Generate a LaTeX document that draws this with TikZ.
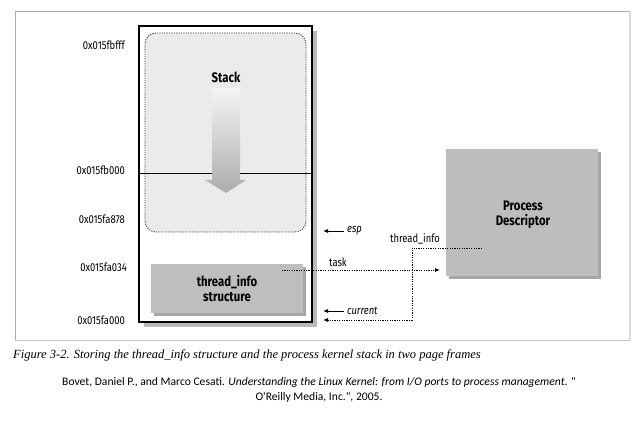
\documentclass[tikz,border=0pt]{standalone}
\usepackage{fontspec}
\setmainfont{Liberation Serif}
\newfontfamily\labfont[FakeStretch=0.82]{Fira Sans}
\newfontfamily\citefont{Carlito}
\usetikzlibrary{arrows.meta,calc}
\definecolor{stackfill}{HTML}{EBEBEB}
\definecolor{infofill}{HTML}{BEBEBE}
\definecolor{pdfill}{HTML}{BDBDBD}
\tikzset{
  addr/.style={font=\labfont\fontsize{11.5}{13}\selectfont, anchor=east, inner sep=0pt},
  boldlab/.style={font=\labfont\bfseries\fontsize{13.8}{15}\selectfont, align=center, inner sep=0pt},
  small/.style={font=\labfont\fontsize{11.5}{13}\selectfont, inner sep=0pt},
  ptr/.style={font=\labfont\itshape\fontsize{11.5}{13}\selectfont, anchor=west, inner sep=0pt},
  solidarrow/.style={line width=0.8pt, -{Latex[length=5pt,width=4pt]}},
  dotarrow/.style={line width=0.8pt, dash pattern=on 1.2pt off 1.2pt, -{Latex[length=5pt,width=4pt]}},
}
\begin{document}
\begin{tikzpicture}[x=1pt,y=-1pt]
\useasboundingbox (0,0) rectangle (638,427);
% outer frame
\draw[gray!65, line width=1pt] (15,12) -- (630,12);
\draw[gray!65, line width=1pt] (15,12) -- (15,341);
\draw[gray!45, line width=1pt] (15,341) -- (630,341);
\draw[gray!30, line width=2pt] (630,12) -- (630,341);
% main page-frame box with shadow
\fill[gray!55] (144,31) rectangle (317,327);
\node[draw=black, line width=1.2pt, fill=white, minimum width=173pt, minimum height=296pt, inner sep=0pt] (frame) at (225.5,174) {};
% stack area
\node[draw=black!75, fill=stackfill, dash pattern=on 1.2pt off 1.2pt, line width=0.9pt, rounded corners=11pt, minimum width=161pt, minimum height=199pt, inner sep=0pt] (stackarea) at (225.5,132.5) {};
% page boundary
\draw[line width=1pt] (frame.west |- 0,174) -- (frame.east |- 0,174);
% stack growth arrow
\shade[top color=gray!8, bottom color=gray!65] (212,88) -- (240,88) -- (240,180) -- (246,180) -- (226,193) -- (205,180) -- (212,180) -- cycle;
\node[boldlab] (stack) at (226,77) {Stack};
% thread_info structure
\fill[gray!70] (154,267) rectangle (306,316);
\node[fill=infofill, minimum width=152pt, minimum height=49pt, inner sep=0pt, boldlab] (tinfo) at (227,288.5) {thread\_info\\structure};
% process descriptor
\fill[gray!70] (449,152) rectangle (601,279);
\node[fill=pdfill, minimum width=152pt, minimum height=127pt, inner sep=0pt] (pd) at (522,212.5) {};
\node[boldlab] (pdtext) at (523,215) {Process\\Descriptor};
% addresses
\node[addr] (a1) at (125,45) {0x015fbfff};
\node[addr] (a2) at (125,170) {0x015fb000};
\node[addr] (a3) at (125,219) {0x015fa878};
\node[addr] (a4) at (127,267) {0x015fa034};
\node[addr] (a5) at (125,320) {0x015fa000};
% esp and current pointers
\node[ptr] (esp) at (347,231) {esp};
\coordinate (esptip) at (323,231);
\draw[solidarrow] ([xshift=-3pt]esp.west) -- (esptip);
\node[ptr] (cur) at (347,311) {current};
\coordinate (curtip) at (323,311);
\draw[solidarrow] ([xshift=-3pt]cur.west) -- (curtip);
% task pointer
\coordinate (taskstart) at (282,270);
\coordinate (tasktip) at (440,270);
\draw[dotarrow] (taskstart) -- (tasktip);
\node[small] (task) at (338,262) {task};
% thread_info pointer
\coordinate (tistart) at (482,248);
\coordinate (tibend) at (412,248);
\coordinate (titip) at (323,320);
\draw[dotarrow] (tistart) -- (tibend) |- (titip);
\node[small] (tilab) at (415,239) {thread\_info};
% caption
\node[anchor=west, inner sep=0pt, font=\itshape\fontsize{12.5}{14}\selectfont] (cap) at (13,355) {Figure 3-2. Storing the thread\_info structure and the process kernel stack in two page frames};
\node[inner sep=0pt, align=center, font=\citefont\fontsize{11.6}{14.5}\selectfont] (cite) at (319,390) {Bovet, Daniel P., and Marco Cesati. \textit{Understanding the Linux Kernel: from I/O ports to process management}. "\\O'Reilly Media, Inc.", 2005.};
\end{tikzpicture}
\end{document}
